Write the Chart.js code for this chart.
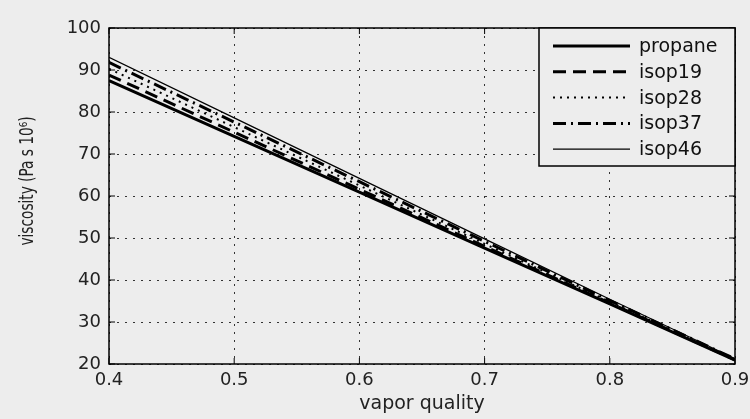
<!DOCTYPE html>
<html>
<head>
<meta charset="utf-8">
<script src="https://cdn.jsdelivr.net/npm/chart.js@4.4.1/dist/chart.umd.min.js"></script>
<style>
    html, body { margin: 0; padding: 0; background: #ededed; }
    #wrap { width: 750px; height: 419px; }
</style>
</head>
<body>
<div id="wrap"><canvas id="chart" width="750" height="419"></canvas></div>
<script>

// data
const quality = [0.4, 0.5, 0.6, 0.7, 0.8, 0.9];
const propane = [87.5, 74.2, 60.9, 47.6, 34.3, 20.9];
const isop19 = [88.8, 75.2, 61.6, 48.0, 34.5, 21.0];
const isop28 = [90.3, 76.4, 62.5, 48.6, 34.8, 21.1];
const isop37 = [91.8, 77.6, 63.4, 49.2, 35.1, 21.2];
const isop46 = [93.0, 78.6, 64.2, 49.8, 35.4, 21.3];

const seriesNames = ["propane", "isop19", "isop28", "isop37", "isop46"];
const seriesValues = [propane, isop19, isop28, isop37, isop46];
const xTicks = [0.4, 0.5, 0.6, 0.7, 0.8, 0.9];
const yTicks = [20, 30, 40, 50, 60, 70, 80, 90, 100];
const yTitle = "viscosity (Pa s 10⁶)";

// line styles (matlab-like)
const styles = [
    { w: 3, dash: [] },
    { w: 3, dash: [13, 7] },
    { w: 2, dash: [2, 5] },
    { w: 3, dash: [13, 5, 2, 5] },
    { w: 1.2, dash: [] }
];

let datasets = [];
for (let i = 0; i < seriesNames.length; i++) {
    datasets.push({
        label: seriesNames[i],
        data: quality.map((q, k) => ({ x: q, y: seriesValues[i][k] })),
        borderColor: "#000",
        borderWidth: styles[i].w,
        borderDash: styles[i].dash,
        pointRadius: 0,
        tension: 0,
        fill: false
    });
}

const bgColor = "#ededed";

const background = {
    id: "background",
    beforeDraw(chart) {
        const ctx = chart.ctx;
        ctx.save();
        ctx.fillStyle = bgColor;
        ctx.fillRect(0, 0, chart.width, chart.height);
        ctx.restore();
    }
};

// axes box + inward tick marks + y title + boxed legend
const frame = {
    id: "frame",
    afterDraw(chart) {
        const ctx = chart.ctx;
        const a = chart.chartArea;
        const xs = chart.scales.x, ys = chart.scales.y;
        ctx.save();
        ctx.strokeStyle = "#000";
        ctx.lineWidth = 1.5;
        ctx.setLineDash([]);
        ctx.strokeRect(a.left, a.top, a.right - a.left, a.bottom - a.top);

        ctx.lineWidth = 1;
        ctx.beginPath();
        xTicks.forEach(function (t) {
            let px = xs.getPixelForValue(t);
            ctx.moveTo(px, a.bottom); ctx.lineTo(px, a.bottom - 6);
            ctx.moveTo(px, a.top); ctx.lineTo(px, a.top + 6);
        });
        yTicks.forEach(function (t) {
            let py = ys.getPixelForValue(t);
            ctx.moveTo(a.left, py); ctx.lineTo(a.left + 6, py);
            ctx.moveTo(a.right, py); ctx.lineTo(a.right - 6, py);
        });
        ctx.stroke();

        // y title, squeezed like the original
        ctx.save();
        ctx.translate(28, (a.top + a.bottom) / 2 - 15);
        ctx.rotate(-Math.PI / 2);
        ctx.scale(0.72, 1);
        ctx.fillStyle = "#222";
        ctx.font = '19px "DejaVu Sans"';
        ctx.textAlign = "center";
        ctx.textBaseline = "middle";
        ctx.fillText(yTitle, 0, 0);
        ctx.restore();

        // legend
        const w = 196, h = 138;
        const x0 = a.right - w, y0 = a.top;
        ctx.fillStyle = bgColor;
        ctx.fillRect(x0, y0, w, h);
        ctx.lineWidth = 1.5;
        ctx.strokeRect(x0, y0, w, h);
        chart.data.datasets.forEach(function (ds, i) {
            let y = y0 + 18 + i * 25.8;
            ctx.beginPath();
            ctx.setLineDash(ds.borderDash);
            ctx.lineWidth = ds.borderWidth;
            ctx.moveTo(x0 + 14, y);
            ctx.lineTo(x0 + 91, y);
            ctx.stroke();
            ctx.setLineDash([]);
            ctx.fillStyle = "#111";
            ctx.font = '19px "DejaVu Sans"';
            ctx.textBaseline = "middle";
            ctx.textAlign = "left";
            ctx.fillText(ds.label, x0 + 100, y + 1);
        });
        ctx.restore();
    }
};

let chart = new Chart(document.getElementById("chart"), {
    type: "line",
    data: { datasets: datasets },
    plugins: [background, frame],
    options: {
        responsive: false,
        animation: false,
        layout: { padding: { top: 28, right: 15, left: 0, bottom: 0 } },
        plugins: {
            legend: { display: false },
            tooltip: { enabled: false }
        },
        scales: {
            x: {
                type: "linear",
                min: 0.4,
                max: 0.9,
                afterBuildTicks: function (s) { s.ticks = xTicks.map(v => ({ value: v })); },
                afterFit: function (s) {
                    s.height = 55;
                    s.paddingLeft = 0;
                    s.paddingRight = 0;
                },
                grid: { color: "#333", lineWidth: 1, drawTicks: false },
                border: { display: false, dash: [2, 6] },
                ticks: {
                    padding: 6,
                    color: "#222",
                    font: { family: "DejaVu Sans", size: 18 },
                    callback: v => v.toFixed(1)
                },
                title: {
                    display: true,
                    text: "vapor quality",
                    color: "#222",
                    font: { family: "DejaVu Sans", size: 19 },
                    padding: { top: 0, bottom: 4 }
                }
            },
            y: {
                min: 20,
                max: 100,
                afterBuildTicks: function (s) { s.ticks = yTicks.map(v => ({ value: v })); },
                afterFit: function (s) {
                    s.width = 109;
                    s.paddingTop = 0;
                    s.paddingBottom = 0;
                },
                grid: { color: "#333", lineWidth: 1, drawTicks: false },
                border: { display: false, dash: [2, 6] },
                ticks: {
                    padding: 8,
                    color: "#222",
                    font: { family: "DejaVu Sans", size: 18 }
                }
            }
        }
    }
});

</script>
</body>
</html>
